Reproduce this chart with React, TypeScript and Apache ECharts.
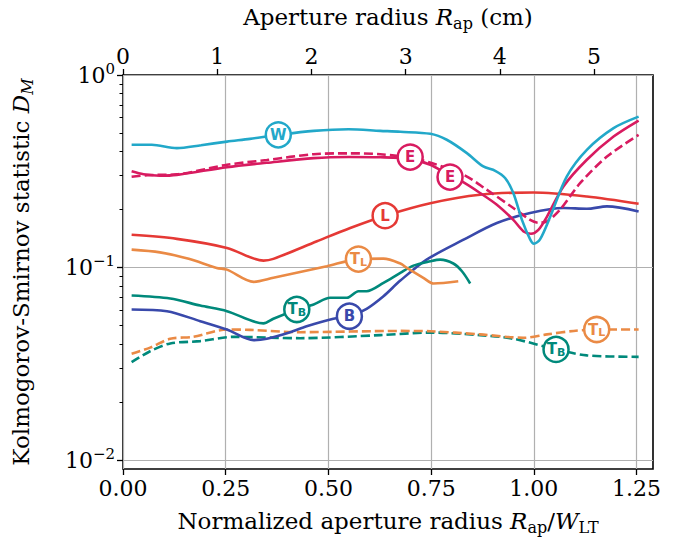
import React, { useEffect, useRef } from 'react';
import * as echarts from 'echarts';

// ---- axes ----
const W_LT_CM = 4.361; // cm per normalized unit (top axis scale)
const X_MIN = 0;
const X_MAX = 1.29;
const Y_MIN = 0.009;
const Y_MAX = 1;

const xTicks = [0, 0.25, 0.5, 0.75, 1.0, 1.25];
const cmTicks = [0, 1, 2, 3, 4, 5];
const yMajorTicks = [0.01, 0.1, 1];
const yMinorTicks = [0.02, 0.03, 0.04, 0.05, 0.06, 0.07, 0.08, 0.09, 0.2, 0.3, 0.4, 0.5, 0.6, 0.7, 0.8, 0.9];

// ---- series data [normalized radius, D_M] ----
const wSolid = [
  [0.021, 0.434], [0.07, 0.434], [0.131, 0.417], [0.19, 0.432], [0.253, 0.451], [0.309, 0.466],
  [0.378, 0.489], [0.464, 0.513], [0.549, 0.523], [0.626, 0.513], [0.675, 0.507], [0.748, 0.495],
  [0.788, 0.461], [0.837, 0.393], [0.877, 0.335], [0.906, 0.318], [0.93, 0.292], [0.95, 0.244],
  [0.971, 0.177], [0.991, 0.14], [1.0, 0.133], [1.015, 0.14], [1.04, 0.184], [1.08, 0.297],
  [1.129, 0.409], [1.194, 0.53], [1.255, 0.608],
];
const eSolid = [
  [0.021, 0.316], [0.05, 0.305], [0.09, 0.3], [0.131, 0.303], [0.253, 0.332], [0.35, 0.35],
  [0.464, 0.37], [0.55, 0.375], [0.626, 0.374], [0.699, 0.367], [0.748, 0.342], [0.796, 0.3],
  [0.825, 0.28], [0.869, 0.244], [0.91, 0.212], [0.95, 0.177], [0.975, 0.154], [0.993, 0.15],
  [1.011, 0.157], [1.032, 0.184], [1.072, 0.264], [1.129, 0.363], [1.194, 0.479], [1.255, 0.58],
];
const eDashed = [
  [0.021, 0.296], [0.06, 0.302], [0.131, 0.305], [0.253, 0.342], [0.35, 0.362], [0.464, 0.388],
  [0.55, 0.392], [0.626, 0.388], [0.723, 0.363], [0.829, 0.303], [0.885, 0.254], [0.95, 0.204],
  [0.991, 0.177], [1.011, 0.171], [1.032, 0.174], [1.064, 0.2], [1.113, 0.275], [1.178, 0.377],
  [1.255, 0.489],
];
const lSolid = [
  [0.021, 0.148], [0.131, 0.141], [0.253, 0.1265], [0.342, 0.1087], [0.366, 0.111], [0.472, 0.137],
  [0.553, 0.1606], [0.638, 0.186], [0.748, 0.216], [0.869, 0.239], [0.999, 0.2455], [1.129, 0.234],
  [1.255, 0.2146],
];
const tlSolid = [
  [0.021, 0.124], [0.09, 0.12], [0.16, 0.111], [0.228, 0.0996], [0.253, 0.0976], [0.318, 0.0843],
  [0.366, 0.0885], [0.496, 0.1016], [0.573, 0.1107], [0.634, 0.1113], [0.675, 0.105], [0.691, 0.0996],
  [0.731, 0.0885], [0.756, 0.0827], [0.816, 0.0849],
];
const tbSolid = [
  [0.021, 0.0716], [0.115, 0.0691], [0.188, 0.0635], [0.253, 0.0594], [0.342, 0.0513], [0.366, 0.0542],
  [0.423, 0.0606], [0.464, 0.0643], [0.504, 0.0697], [0.545, 0.0697], [0.573, 0.0754], [0.593, 0.0754],
  [0.634, 0.0833], [0.675, 0.0939], [0.707, 0.1024], [0.748, 0.1078], [0.772, 0.11], [0.804, 0.105],
  [0.825, 0.0957], [0.845, 0.0827],
];
const bSolid = [
  [0.021, 0.0606], [0.107, 0.0594], [0.188, 0.0527], [0.253, 0.0477], [0.318, 0.042], [0.35, 0.0427],
  [0.407, 0.0462], [0.447, 0.0496], [0.512, 0.0542], [0.551, 0.0559], [0.593, 0.0611], [0.634, 0.071],
  [0.675, 0.0856], [0.739, 0.11], [0.829, 0.1396], [0.91, 0.1704], [0.991, 0.192], [1.072, 0.2039],
  [1.129, 0.202], [1.178, 0.2078], [1.255, 0.1957],
];
const tlDashed = [
  [0.021, 0.0357], [0.066, 0.0384], [0.115, 0.0427], [0.171, 0.0437], [0.253, 0.0477], [0.309, 0.0475],
  [0.431, 0.0462], [0.675, 0.0469], [0.748, 0.0467], [0.869, 0.045], [0.975, 0.0432], [1.032, 0.045],
  [1.097, 0.0469], [1.153, 0.0477], [1.255, 0.0477],
];
const tbDashed = [
  [0.021, 0.0323], [0.066, 0.0368], [0.115, 0.0404], [0.188, 0.0415], [0.269, 0.0437], [0.431, 0.043],
  [0.626, 0.0446], [0.748, 0.046], [0.869, 0.0446], [0.95, 0.0427], [1.054, 0.0376], [1.129, 0.035],
  [1.255, 0.0344],
];

// ---- label markers ----
const markerLabels = ['W', 'E', 'E', 'L', 'TL', 'TB', 'B', 'TL', 'TB'];
const markerX = [0.378, 0.699, 0.796, 0.638, 0.573, 0.423, 0.551, 1.153, 1.054];
const markerY = [0.489, 0.375, 0.295, 0.186, 0.1107, 0.0606, 0.0559, 0.0477, 0.0376];

const CYAN = '#22a8c9';
const MAGENTA = '#d81b60';
const RED = '#e53935';
const ORANGE = '#ea8a45';
const TEAL = '#00897b';
const BLUE = '#3949ab';
const markerColors = [CYAN, MAGENTA, MAGENTA, RED, ORANGE, TEAL, BLUE, ORANGE, TEAL];

const SERIF = "'DejaVu Serif', serif";
const SANS = "'DejaVu Sans', sans-serif";
const FS = 22;
const NFS = 23;
const SFS = 15;

const richText = {
  n: { fontFamily: SERIF, fontSize: NFS, lineHeight: 28, color: '#000' },
  i: { fontFamily: SERIF, fontSize: NFS, lineHeight: 28, fontStyle: 'italic', color: '#000' },
  s: { fontFamily: SERIF, fontSize: SFS + 1, lineHeight: 16, verticalAlign: 'bottom', color: '#000' },
  si: { fontFamily: SERIF, fontSize: SFS + 1, lineHeight: 16, verticalAlign: 'bottom', fontStyle: 'italic', color: '#000' },
};

const supRich = {
  b: { fontFamily: SERIF, fontSize: FS, lineHeight: 28, color: '#000' },
  p: { fontFamily: SERIF, fontSize: SFS, lineHeight: 15, verticalAlign: 'top', color: '#000' },
};

function lineSeries(data: number[][], color: string, dashed: boolean) {
  return {
    type: 'line',
    data,
    xAxisIndex: 0,
    yAxisIndex: 0,
    showSymbol: false,
    smooth: 0.3,
    lineStyle: { color, width: 2.6, type: dashed ? [9, 4] : 'solid', cap: 'butt' },
    z: 3,
  };
}

export default function App() {
  const ref = useRef<HTMLDivElement>(null);
  useEffect(() => {
    document.body.style.margin = '0';
    if (!ref.current) return;
    const chart = echarts.init(ref.current, undefined, { renderer: 'svg' });
    const tickStyle = { color: '#000', width: 1.3 };
    const option = {
      animation: false,
      backgroundColor: '#fff',
      grid: {
        left: 123, right: 29, top: 75, bottom: 76,
        show: true, borderColor: '#000', borderWidth: 1.6, backgroundColor: 'transparent',
      },
      xAxis: [
        {
          type: 'value', position: 'bottom', min: X_MIN, max: X_MAX,
          axisLine: { show: false },
          axisTick: { show: true, length: 6, lineStyle: tickStyle, customValues: xTicks },
          axisLabel: {
            customValues: xTicks, margin: 8, color: '#000', fontFamily: SERIF, fontSize: FS,
            formatter: (v: number) => v.toFixed(2),
          },
          splitLine: { show: true, lineStyle: { color: '#b0b0b0', width: 1.2 } },
          name: '{n|Normalized aperture radius }{i|R}{s|ap}{n|/}{i|W}{s|LT}',
          nameLocation: 'middle', nameGap: 38,
          nameTextStyle: { rich: richText },
        },
        {
          type: 'value', position: 'top', min: 0, max: X_MAX * W_LT_CM,
          axisLine: { show: false },
          axisTick: { show: true, length: 6, lineStyle: tickStyle, customValues: cmTicks },
          axisLabel: {
            customValues: cmTicks, margin: 8, color: '#000', fontFamily: SERIF, fontSize: FS,
            formatter: (v: number) => String(v),
          },
          splitLine: { show: false },
          name: '{n|Aperture radius }{i|R}{s|ap}{n| (cm)}',
          nameLocation: 'middle', nameGap: 44,
          nameTextStyle: { rich: richText },
        },
      ],
      yAxis: [
        {
          type: 'log', logBase: 10, min: Y_MIN, max: Y_MAX, position: 'left',
          axisLine: { show: false },
          axisTick: { show: true, length: 6, lineStyle: tickStyle, customValues: yMajorTicks },
          axisLabel: {
            customValues: yMajorTicks, margin: 8, color: '#000',
            formatter: (v: number) => {
              const e = Math.round(Math.log10(v));
              return `{b|10}{p|${e < 0 ? '\u2212' + Math.abs(e) : e}}`;
            },
            rich: supRich,
          },
          splitLine: { show: true, lineStyle: { color: '#b0b0b0', width: 1.2 } },
          minorTick: { show: false },
          name: '{n|Kolmogorov-Smirnov statistic }{i|D}{si|M}',
          nameLocation: 'middle', nameGap: 88,
          nameTextStyle: { rich: richText },
        },
        {
          type: 'log', logBase: 10, min: Y_MIN, max: Y_MAX, position: 'left',
          axisLine: { show: false },
          axisTick: { show: true, length: 3.5, lineStyle: { color: '#000', width: 1 }, customValues: yMinorTicks },
          axisLabel: { show: false },
          splitLine: { show: false },
        },
      ],
      series: [
        lineSeries(tbDashed, TEAL, true),
        lineSeries(tlDashed, ORANGE, true),
        lineSeries(bSolid, BLUE, false),
        lineSeries(tbSolid, TEAL, false),
        lineSeries(tlSolid, ORANGE, false),
        lineSeries(lSolid, RED, false),
        lineSeries(eDashed, MAGENTA, true),
        lineSeries(eSolid, MAGENTA, false),
        lineSeries(wSolid, CYAN, false),
        {
          type: 'scatter',
          xAxisIndex: 0,
          yAxisIndex: 0,
          symbol: 'circle',
          symbolSize: 25,
          z: 5,
          data: markerLabels.map((t, k) => ({
            value: [markerX[k], markerY[k]],
            itemStyle: { color: '#fff', opacity: 1, borderColor: markerColors[k], borderWidth: 2.5 },
            label: {
              show: true, position: 'inside', color: markerColors[k],
              formatter: t.length > 1 ? `{t|${t[0]}}{s|${t[1]}}` : `{t|${t}}`,
              rich: {
                t: { fontFamily: SANS, fontSize: 15, fontWeight: 'bold', lineHeight: 17, color: markerColors[k] },
                s: { fontFamily: SANS, fontSize: 11, fontWeight: 'bold', lineHeight: 12, verticalAlign: 'bottom', color: markerColors[k] },
              },
            },
          })),
        },
      ],
    };
    chart.setOption(option as any);
    return () => chart.dispose();
  }, []);
  return <div ref={ref} style={{ width: 682, height: 545 }} />;
}
